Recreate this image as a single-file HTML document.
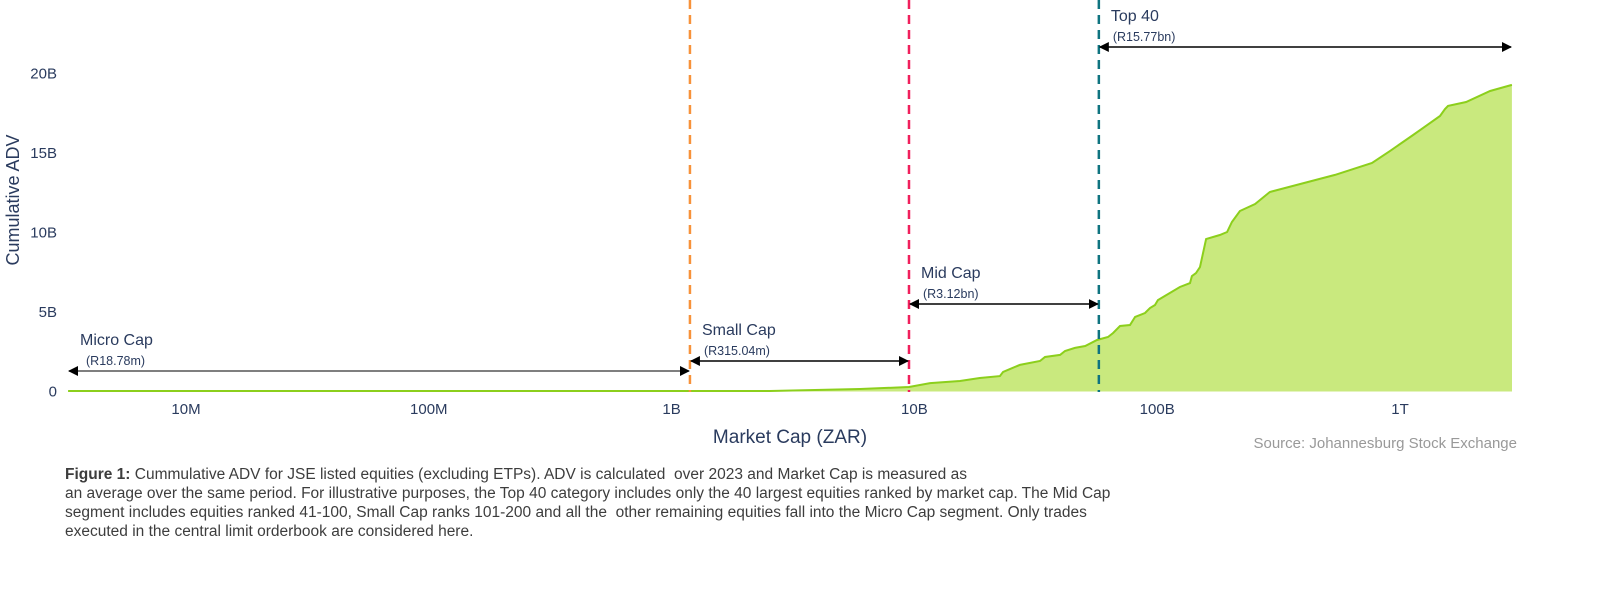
<!DOCTYPE html>
<html><head><meta charset="utf-8"><style>
body{margin:0;background:#fff;width:1600px;height:600px;overflow:hidden;font-family:"Liberation Sans",sans-serif}
#cap{position:absolute;left:65px;top:465px;font-size:15.5px;line-height:19px;color:#3d3d3d;white-space:nowrap}
</style></head><body>
<svg id="chart" width="1600" height="460" style="position:absolute;left:0;top:0" font-family="Liberation Sans, sans-serif"></svg>
<div id="cap"><b>Figure 1:</b> Cummulative ADV for JSE listed equities (excluding ETPs). ADV is calculated&nbsp; over 2023 and Market Cap is measured as<br>an average over the same period. For illustrative purposes, the Top 40 category includes only the 40 largest equities ranked by market cap. The Mid Cap<br>segment includes equities ranked 41-100, Small Cap ranks 101-200 and all the&nbsp; other remaining equities fall into the Micro Cap segment. Only trades<br>executed in the central limit orderbook are considered here.</div>
<script>
// market cap in ZAR billions
const marketCapB=[0.00327,2.54,5.97,9.5,11.6,15.4,18.6,22.5,23.2,24.8,27.2,32.9,34.5,39.8,41.7,45.8,50.5,56.5,62.7,65.8,70.3,77.3,81.1,89.1,93.4,97.9,100.7,107.7,124,136.5,139,144.5,150,159,181,194,203,219,253,291,540,767,910,1132,1462,1532,1577,1871,2350,2890];
// cumulative ADV in ZAR billions
const cumAdvB=[0.03,0.03,0.16,0.28,0.53,0.66,0.85,0.97,1.23,1.42,1.67,1.92,2.17,2.30,2.55,2.74,2.86,3.24,3.43,3.68,4.12,4.18,4.69,4.94,5.25,5.44,5.75,6.01,6.57,6.82,7.26,7.45,7.83,9.59,9.84,10.03,10.66,11.35,11.79,12.55,13.62,14.37,15.13,16.13,17.33,17.77,17.96,18.21,18.90,19.28];
const yTicks=[0,5,10,15,20];
const yTickLabels=["0","5B","10B","15B","20B"];
const xTicksB=[0.01,0.1,1,10,100,1000];
const xTickLabels=["10M","100M","1B","10B","100B","1T"];
const cutoffsB=[1.19,9.5,57.5];
const cutoffColors=["#f7923a","#f0205c","#0f7480"];
const segNames=["Micro Cap","Small Cap","Mid Cap","Top 40"];
const segValues=["(R18.78m)","(R315.04m)","(R3.12bn)","(R15.77bn)"];

const X0=68,X1=1512;
const xs=v=>186+(Math.log10(v)-(-2))*242.8;
const ys=v=>391.5-v*15.9;
const svg=document.getElementById('chart');
const NS='http://www.w3.org/2000/svg';
function mk(t,a,p){const e=document.createElementNS(NS,t);for(const k in a)e.setAttribute(k,a[k]);(p||svg).appendChild(e);return e;}
const defs=mk('defs',{});
const mkr=mk('marker',{id:'ah',viewBox:'0 0 10 10',refX:'9',refY:'5',markerWidth:'10',markerHeight:'10',markerUnits:'userSpaceOnUse',orient:'auto-start-reverse'},defs);
mk('path',{d:'M0,0L10,5L0,10z',fill:'#000'},mkr);

let d='M'+X0+','+ys(0);
marketCapB.forEach((m,i)=>{d+='L'+xs(m).toFixed(1)+','+ys(cumAdvB[i]).toFixed(1);});
d+='L'+X1+','+ys(0)+'Z';
const area=mk('path',{d:d,fill:'#c9e97e'});


let ld='';
marketCapB.forEach((m,i)=>{ld+=(i?'L':'M')+xs(m).toFixed(1)+','+ys(cumAdvB[i]).toFixed(1);});
const line=mk('path',{d:ld,fill:'none',stroke:'#8ccf1c','stroke-width':2});



yTicks.forEach((v,i)=>{const t=mk('text',{x:57,y:ys(v)+5,'text-anchor':'end','font-size':15,fill:'#2a3b5e'});t.textContent=yTickLabels[i];

});
xTicksB.forEach((v,i)=>{const t=mk('text',{x:xs(v),y:414,'text-anchor':'middle','font-size':15,fill:'#2a3b5e'});t.textContent=xTickLabels[i];

});
const yt=mk('text',{x:0,y:0,transform:'translate(19,200) rotate(-90)','text-anchor':'middle','font-size':18,fill:'#2a3b5e'});yt.textContent='Cumulative ADV';


const xt=mk('text',{x:790,y:443,'text-anchor':'middle','font-size':19,fill:'#2a3b5e'});xt.textContent='Market Cap (ZAR)';


const src=mk('text',{x:1517,y:448,'text-anchor':'end','font-size':15,fill:'#999'});src.textContent='Source: Johannesburg Stock Exchange';



cutoffsB.forEach((c,i)=>{const l=mk('line',{x1:xs(c),x2:xs(c),y1:0,y2:392,stroke:cutoffColors[i],'stroke-width':2.5,'stroke-dasharray':'9,6'});

});

const bounds=[X0].concat(cutoffsB.map(xs)).concat([X1]);
const arrowY=[371,361,304,47];
for(let i=0;i<4;i++){
 const a=bounds[i],b=bounds[i+1];
 const l=mk('line',{x1:a+1,x2:b-1,y1:arrowY[i],y2:arrowY[i],stroke:i==0?'#555':'#000','stroke-width':1.5,'marker-start':'url(#ah)','marker-end':'url(#ah)'});
 
 
 const n=mk('text',{x:a+12,y:arrowY[i]-26,'font-size':16,fill:'#2a3b5e'});n.textContent=segNames[i];
 
 
 const v=mk('text',{x:a+(i==0?18:14),y:arrowY[i]-6,'font-size':12.5,fill:'#2a3b5e'});v.textContent=segValues[i];
 
 
}
</script>
</body></html>
